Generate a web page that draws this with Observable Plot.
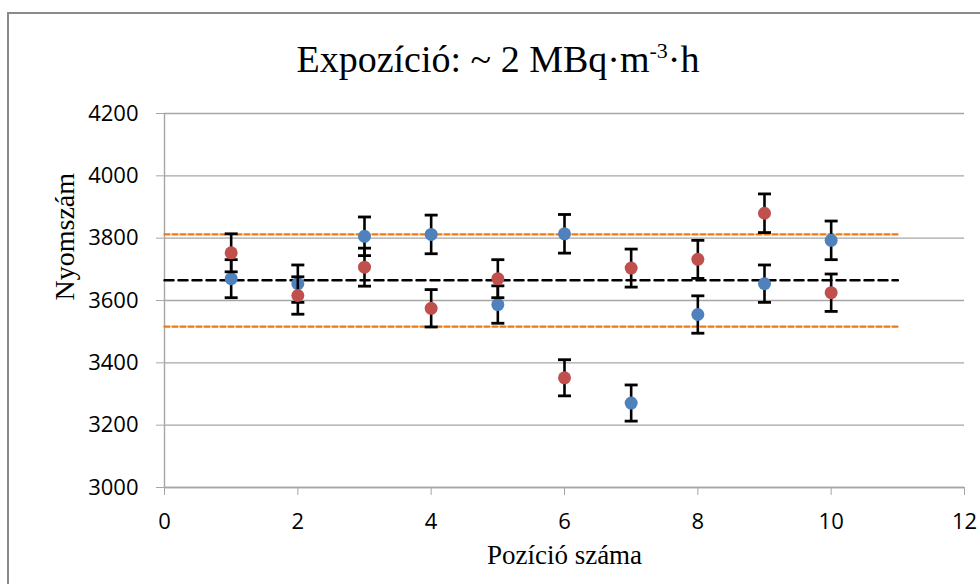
<!DOCTYPE html>
<html>
<head>
<meta charset="utf-8">
<script src="https://cdn.jsdelivr.net/npm/d3@7"></script>
<script src="https://cdn.jsdelivr.net/npm/@observablehq/plot@0.6"></script>
<style>
  html, body { margin: 0; padding: 0; background: #fff; }
  #wrap { position: relative; width: 980px; height: 584px; overflow: hidden; background: #fff; }
  #frame { position: absolute; left: 7px; top: 12px; width: 1100px; height: 700px;
           border-left: 2px solid #8a8a8a; border-top: 2px solid #8a8a8a; box-sizing: border-box; }
  #title { position: absolute; left: 0; width: 996px; top: 34px; text-align: center;
           font-family: "Liberation Serif", "Times New Roman", Tinos, "DejaVu Serif", serif; font-size: 38px; color: #000; line-height: 50px; }
  #title sup { font-size: 22px; vertical-align: 0; position: relative; top: -14px; }
  #chart { position: absolute; left: 0; top: 0; }
  .serif { font-family: "Liberation Serif", "Times New Roman", Tinos, "DejaVu Serif", serif; }
</style>
</head>
<body>
<div id="wrap">
  <div id="frame"></div>
  <div id="chart"></div>
  <div id="title">Expozíció: ~ 2 MBq·m<sup>-3</sup>·h</div>
</div>
<script>
// Data
const positions = [1, 2, 3, 4, 5, 6, 7, 8, 9, 10];
const seriesBlue = [3670, 3654, 3806, 3812, 3587, 3814, 3271, 3555, 3654, 3793];
const errBlue    = [61, 60, 62, 62, 60, 62, 58, 60, 60, 62];
const seriesRed  = [3753, 3616, 3707, 3575, 3670, 3352, 3704, 3732, 3880, 3625];
const errRed     = [61, 60, 61, 60, 61, 58, 61, 61, 62, 60];
const meanLevel = 3665;
const upperLevel = 3812;
const lowerLevel = 3516;
const levelX = [0, 11];
const xTicks = [0, 2, 4, 6, 8, 10, 12];
const yTicks = [3000, 3200, 3400, 3600, 3800, 4000, 4200];

const blue = "#4f81bd", red = "#c0504d", orange = "#ee7a16", gray = "#a6a6a6";
const serifFont = "Liberation Serif, Times New Roman, Tinos, DejaVu Serif, serif";

const blueData = positions.map((x, i) => ({x, y: seriesBlue[i], e: errBlue[i]}));
const redData  = positions.map((x, i) => ({x, y: seriesRed[i],  e: errRed[i]}));
const levelLine = (v) => levelX.map(x => ({x, y: v}));

const capSymbol = { draw(ctx) { ctx.moveTo(-6.5, 0); ctx.lineTo(6.5, 0); } };

const errorMarks = (data) => [
  Plot.ruleX(data, {x: "x", y1: d => d.y - d.e, y2: d => d.y + d.e, stroke: "#000", strokeWidth: 2.6}),
  Plot.dot(data, {x: "x", y: d => d.y + d.e, symbol: capSymbol, stroke: "#000", strokeWidth: 2.8, fill: "none"}),
  Plot.dot(data, {x: "x", y: d => d.y - d.e, symbol: capSymbol, stroke: "#000", strokeWidth: 2.8, fill: "none"})
];

const chart = Plot.plot({
  width: 980,
  height: 584,
  marginLeft: 164,
  marginRight: 16,
  marginTop: 113,
  marginBottom: 97,
  style: {fontFamily: "'Open Sans', sans-serif", fontSize: "22px", color: "#000", background: "transparent", overflow: "visible"},
  x: {domain: [0, 12]},
  y: {domain: [3000, 4200]},
  marks: [
    Plot.gridY(yTicks, {stroke: gray, strokeOpacity: 1, strokeWidth: 1.4}),
    Plot.ruleX([0], {stroke: gray, strokeWidth: 1.4}),
    Plot.ruleY([3000], {stroke: gray, strokeWidth: 1.4}),
    Plot.axisX({ticks: xTicks, tickSize: 8, tickPadding: 18, stroke: gray, label: null, fill: "#000", tickFormat: d => String(d)}),
    Plot.axisY({ticks: yTicks, tickSize: 8, tickPadding: 18, stroke: gray, label: null, fill: "#000", tickFormat: d => String(d)}),
    Plot.line(levelLine(upperLevel), {x: "x", y: "y", stroke: orange, strokeWidth: 2.3, strokeDasharray: "5,3"}),
    Plot.line(levelLine(lowerLevel), {x: "x", y: "y", stroke: orange, strokeWidth: 2.3, strokeDasharray: "5,3"}),
    Plot.line(levelLine(meanLevel), {x: "x", y: "y", stroke: "#000", strokeWidth: 2.5, strokeDasharray: "9,5"}),
    ...errorMarks(blueData),
    Plot.dot(blueData, {x: "x", y: "y", r: 6.5, fill: blue, stroke: "none"}),
    ...errorMarks(redData),
    Plot.dot(redData, {x: "x", y: "y", r: 6.5, fill: red, stroke: "none"}),
    Plot.text(["Nyomszám"], {frameAnchor: "left", dx: -99, rotate: -90, fontFamily: serifFont, fontSize: 28, fill: "#000", className: "serif"}),
    Plot.text(["Pozíció száma"], {frameAnchor: "bottom", dy: 76, fontFamily: serifFont, fontSize: 27, fill: "#000", className: "serif"})
  ]
});
chart.querySelectorAll("text").forEach(t => {
  if (t.textContent === "Nyomszám" || t.textContent === "Pozíció száma") t.setAttribute("font-family", serifFont);
});
document.getElementById("chart").appendChild(chart);
</script>
</body>
</html>
